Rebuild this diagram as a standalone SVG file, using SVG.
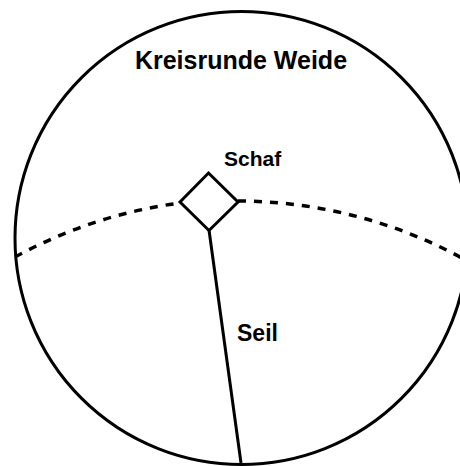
<svg xmlns="http://www.w3.org/2000/svg" width="460" height="466" viewBox="0 0 460 466">
<style>
.ln{fill:none;stroke:#000;stroke-width:3}
.dash{fill:none;stroke:#000;stroke-width:3.5;stroke-dasharray:8 8}
.t{font-family:"Liberation Sans",Arial,Helvetica,sans-serif;font-weight:bold;fill:#000}
</style>
<rect width="460" height="466" fill="#fff"/>
<g id="weide">
<circle class="ln" cx="241.5" cy="238" r="226.5"/>
<text class="t" x="241" y="69" font-size="25" text-anchor="middle">Kreisrunde Weide</text>
</g>
<g id="connectors">
<path class="dash" d="M 15 257 A 472 472 0 0 1 180 203"/>
<path class="dash" d="M 238 201 A 472 472 0 0 1 465 259.7"/>
<line class="ln" x1="209" y1="230" x2="241" y2="463"/>
<text class="t" x="237" y="341" font-size="23">Seil</text>
</g>
<g id="schaf">
<polygon class="ln" points="208.5,173 238,202 209,230.5 180,202"/>
<text class="t" x="224" y="166" font-size="21">Schaf</text>
</g>
</svg>
